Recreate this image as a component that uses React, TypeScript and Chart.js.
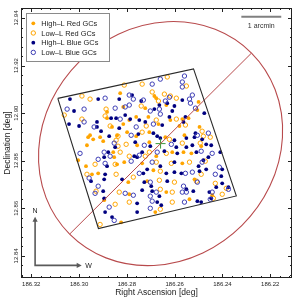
import { useEffect, useRef } from "react";
import { Chart, registerables } from "chart.js";
Chart.register(...registerables);

// ---------- data (RA / Dec in degrees) ----------
const highRedRA = [186.2883,186.2883,186.2862,186.2954,186.2962,186.2941,186.2912,186.2841,186.2967,186.2899,
186.2685,186.2828,186.2677,186.2815,186.2723,186.2635,186.2790,186.2761,186.2710,186.2618,
186.2668,186.2815,186.2706,186.2799,186.2761,186.2639,186.2757,186.2706,186.2500,186.2505,
186.2568,186.2542,186.2580,186.2496,186.2559,186.2489,186.3004,186.2971,186.2857,186.2853,
186.2946,186.2920,186.2895,186.2677,186.2610,186.2841,186.2811,186.2736,186.2689,186.2794,
186.2715,186.2790,186.2635,186.2681,186.2824,186.2563,186.2530,186.2568,186.2517,186.2443,
186.2538];
const highRedDec = [12.9005,12.8979,12.8942,12.8907,12.8899,12.8890,12.8899,12.8907,12.8865,12.8882,
12.9072,12.9084,12.9063,12.9026,12.9021,12.9034,12.8971,12.8984,12.8984,12.8971,
12.8954,12.8954,12.8920,12.8920,12.8903,12.8899,12.8865,12.8878,12.9047,12.9013,
12.8975,12.8979,12.8946,12.8942,12.8907,12.8861,12.8802,12.8777,12.8836,12.8815,
12.8743,12.8747,12.8634,12.8819,12.8836,12.8785,12.8794,12.8789,12.8760,12.8710,
12.8714,12.8659,12.8668,12.8584,12.8541,12.8836,12.8831,12.8789,12.8722,12.8655,
12.8638];

const lowRedRA = [186.2988,186.2954,186.2887,186.3062,186.2988,186.2891,186.2870,186.2845,186.2631,186.2811,
186.2736,186.2694,186.2643,186.2618,186.2668,186.2593,186.2740,186.2593,186.2677,186.2719,
186.2837,186.2736,186.2622,186.2803,186.2837,186.2551,186.2555,186.2485,186.2480,186.2451,
186.2568,186.2493,186.2933,186.2849,186.2967,186.2845,186.2929,186.2849,186.2912,186.2828,
186.2790,186.2723,186.2706,186.2635,186.2677,186.2614,186.2660,186.2773,186.2664,186.2601,
186.2660,186.2832,186.2610,186.2790,186.2610,186.2660,186.2538,186.2472,186.2489,186.2509,
186.2430,186.2384,186.2401,186.2438];
const lowRedDec = [12.9072,12.9059,12.9017,12.8992,12.8975,12.8988,12.8946,12.8886,12.9152,12.9118,
12.9122,12.9089,12.9080,12.9072,12.9051,12.9063,12.9030,12.8975,12.8971,12.8946,
12.8903,12.8920,12.8890,12.8869,12.8861,12.9114,12.8950,12.8924,12.8903,12.8899,
12.8874,12.8874,12.8785,12.8785,12.8743,12.8743,12.8672,12.8617,12.8532,12.8836,
12.8819,12.8819,12.8836,12.8831,12.8794,12.8789,12.8756,12.8731,12.8718,12.8710,
12.8680,12.8668,12.8668,12.8626,12.8626,12.8596,12.8794,12.8798,12.8743,12.8714,
12.8705,12.8684,12.8659,12.8642];

const highBlueRA = [186.3038,186.2920,186.3021,186.3042,186.3000,186.2866,186.2845,186.2925,186.2925,186.2908,
186.2874,186.2849,186.2778,186.2832,186.2740,186.2631,186.2685,186.2664,186.2601,186.2610,
186.2807,186.2786,186.2622,186.2748,186.2723,186.2652,186.2832,186.2689,186.2752,186.2673,
186.2660,186.2601,186.2765,186.2702,186.2593,186.2568,186.2476,186.2555,186.2563,186.2513,
186.2517,186.2485,186.2551,186.2526,186.2468,186.2447,186.2551,186.2895,186.2878,186.2883,
186.2950,186.2891,186.2895,186.2899,186.2895,186.2891,186.2862,186.2769,186.2757,186.2736,
186.2643,186.2589,186.2660,186.2601,186.2731,186.2715,186.2635,186.2601,186.2820,186.2727,
186.2631,186.2698,186.2736,186.2694,186.2664,186.2757,186.2673,186.2656,186.2757,186.2509,
186.2459,186.2409,186.2480,186.2500,186.2572,186.2496,186.2468,186.2401,186.2405,186.2401,
186.2426,186.2551,186.2522,186.2375,186.2455,186.2447,186.2505,186.2489];
const highBlueDec = [12.9059,12.9059,12.9009,12.8954,12.8946,12.8979,12.8979,12.8963,12.8942,12.8924,
12.8903,12.8857,12.9076,12.9059,12.9051,12.9042,12.9017,12.9034,12.9030,12.9009,
12.8992,12.8975,12.8984,12.8971,12.8963,12.8950,12.8937,12.8916,12.8912,12.8903,
12.8895,12.8886,12.8878,12.8861,12.8857,12.9055,12.9000,12.8984,12.8963,12.8916,
12.8899,12.8890,12.8895,12.8865,12.8869,12.8865,12.8857,12.8815,12.8836,12.8777,
12.8714,12.8743,12.8722,12.8672,12.8642,12.8584,12.8563,12.8819,12.8815,12.8836,
12.8840,12.8831,12.8777,12.8794,12.8747,12.8764,12.8747,12.8752,12.8722,12.8710,
12.8714,12.8693,12.8676,12.8672,12.8651,12.8621,12.8626,12.8613,12.8584,12.8836,
12.8815,12.8836,12.8802,12.8777,12.8747,12.8756,12.8764,12.8764,12.8735,12.8705,
12.8689,12.8680,12.8672,12.8689,12.8668,12.8642,12.8630,12.8626];

const lowBlueRA = [186.2891,186.3050,186.2979,186.2849,186.2979,186.2937,186.2853,186.2660,186.2694,186.2790,
186.2622,186.2773,186.2731,186.2639,186.2807,186.2790,186.2664,186.2702,186.2828,186.2660,
186.2689,186.2761,186.2782,186.2727,186.2614,186.2559,186.2568,186.2568,186.2526,186.2538,
186.2534,186.2513,186.2505,186.2459,186.2996,186.2920,186.2895,186.2870,186.2891,186.2958,
186.2920,186.2933,186.2874,186.2853,186.2748,186.2673,186.2782,186.2694,186.2748,186.2702,
186.2807,186.2773,186.2677,186.2702,186.2694,186.2702,186.2489,186.2443,186.2485,186.2526,
186.2555,186.2413,186.2430,186.2505,186.2563,186.2568,186.2551,186.2375,186.2443,186.2451,
186.2559];
const lowBlueDec = [12.9063,12.9017,12.9017,12.9021,12.8963,12.8942,12.8874,12.9143,12.9122,12.9076,
12.9067,12.9059,12.9055,12.9051,12.9026,12.9034,12.9017,12.9009,12.8975,12.8996,
12.8954,12.8942,12.8907,12.8865,12.8869,12.9156,12.9131,12.9110,12.9076,12.9059,
12.9042,12.9021,12.8907,12.8916,12.8831,12.8806,12.8836,12.8819,12.8789,12.8727,
12.8693,12.8663,12.8605,12.8549,12.8823,12.8836,12.8798,12.8794,12.8747,12.8710,
12.8663,12.8655,12.8668,12.8651,12.8630,12.8600,12.8840,12.8831,12.8794,12.8752,
12.8747,12.8773,12.8743,12.8710,12.8693,12.8668,12.8668,12.8680,12.8668,12.8638,
12.8626];

// HST field footprint
const fieldRA = [186.3089, 186.2521, 186.2342, 186.2919, 186.3089];
const fieldDec = [12.9062, 12.9186, 12.8652, 12.8515, 12.9062];
// galaxy ellipse + major axis
const majorAxisRA = [186.3038, 186.2280];
const majorAxisDec = [12.8493, 12.9251];
const ellipseCenterRA = 186.2659;
const ellipseCenterDec = 12.8872;
const ellipseSemiMajor = 0.0537;
const ellipseSemiMinor = 0.0483;
// scale bar (1 arcmin)
const scaleBarRA = [186.2321, 186.2154];
const scaleBarDec = 12.9405;
const scaleBarLabel = "1 arcmin";
// compass
const compassRA = 186.3184;
const compassDec = 12.8360;
const compassNorthDec = 12.8564;
const compassWestRA = 186.2989;

const xRange = [186.2109, 186.3243];
const yRange = [12.8307, 12.9442];
const xTickValues = [186.32, 186.30, 186.28, 186.26, 186.24, 186.22];
const yTickValues = [12.84, 12.86, 12.88, 12.90, 12.92, 12.94];
const minorStep = 0.004;
const xTitle = "Right Ascension [deg]";
const yTitle = "Declination [deg]";
const legendLabels = ["High–L Red GCs", "Low–L Red GCs", "High–L Blue GCs", "Low–L Blue GCs"];

const ORANGE = "#FFA500";
const NAVY = "#000080";
const LIGHTBLUE = "#3c3cb4";
const ELLIPSE = "#b84a4c";
const FONT = "'Liberation Sans', Arial, sans-serif";

const toXY = (ra: number[], dec: number[]) => ra.map((r, i) => ({ x: r, y: dec[i] }));

const decorPlugin = {
  id: "decor",
  afterDatasetsDraw(chart: any) {
    const { ctx, chartArea: a } = chart;
    const xs = chart.scales.x, ys = chart.scales.y;
    const px = (v: number) => xs.getPixelForValue(v);
    const py = (v: number) => ys.getPixelForValue(v);
    ctx.save();

    // ellipse
    const ppd = Math.abs(px(xRange[0]) - px(xRange[1])) / (xRange[1] - xRange[0]);
    const rot = Math.atan2(py(majorAxisDec[1]) - py(majorAxisDec[0]), px(majorAxisRA[1]) - px(majorAxisRA[0]));
    ctx.beginPath();
    ctx.ellipse(px(ellipseCenterRA), py(ellipseCenterDec), ellipseSemiMajor * ppd, ellipseSemiMinor * ppd, rot, 0, Math.PI * 2);
    ctx.strokeStyle = ELLIPSE;
    ctx.lineWidth = 1.1;
    ctx.stroke();

    // frame
    ctx.strokeStyle = "#222";
    ctx.lineWidth = 1;
    ctx.strokeRect(Math.round(a.left) + 0.5, Math.round(a.top) + 0.5, Math.round(a.right - a.left) - 1, Math.round(a.bottom - a.top) - 1);

    // ticks
    ctx.beginPath();
    const isMajor = (v: number, arr: number[]) => arr.some((t) => Math.abs(t - v) < 1e-6);
    const drawX = (v: number, len: number) => {
      const p = Math.round(px(v)) + 0.5;
      ctx.moveTo(p, a.bottom); ctx.lineTo(p, a.bottom - len);
      ctx.moveTo(p, a.top); ctx.lineTo(p, a.top + len);
    };
    const drawY = (v: number, len: number) => {
      const p = Math.round(py(v)) + 0.5;
      ctx.moveTo(a.left, p); ctx.lineTo(a.left + len, p);
      ctx.moveTo(a.right, p); ctx.lineTo(a.right - len, p);
    };
    for (let k = Math.ceil(xRange[0] / minorStep); k * minorStep <= xRange[1]; k++) {
      const v = k * minorStep;
      drawX(v, isMajor(v, xTickValues) ? 4 : 2);
    }
    for (let k = Math.ceil(yRange[0] / minorStep); k * minorStep <= yRange[1]; k++) {
      const v = k * minorStep;
      drawY(v, isMajor(v, yTickValues) ? 4 : 2);
    }
    ctx.stroke();

    // tick labels
    ctx.fillStyle = "#222";
    ctx.font = `6px ${FONT}`;
    ctx.textAlign = "center";
    ctx.textBaseline = "middle";
    xTickValues.forEach((v) => ctx.fillText(v.toFixed(2), px(v), a.bottom + 6.5));
    yTickValues.forEach((v) => {
      ctx.save();
      ctx.translate(a.left - 4.5, py(v));
      ctx.rotate(-Math.PI / 2);
      ctx.fillText(v.toFixed(2), 0, 0);
      ctx.restore();
    });

    // titles
    ctx.font = `8.5px ${FONT}`;
    ctx.fillText(xTitle, (a.left + a.right) / 2, a.bottom + 15);
    ctx.save();
    ctx.translate(a.left - 13.5, (a.top + a.bottom) / 2);
    ctx.rotate(-Math.PI / 2);
    ctx.fillText(yTitle, 0, 0);
    ctx.restore();

    // legend
    const lx = a.left + 5.5, ly = a.top + 5.5, lw = 83, lh = 48;
    ctx.fillStyle = "#fff";
    ctx.fillRect(lx, ly, lw, lh);
    ctx.strokeStyle = "#8a8a8a";
    ctx.lineWidth = 1;
    ctx.strokeRect(lx, ly, lw, lh);
    const styles = [
      { c: ORANGE, fill: true }, { c: ORANGE, fill: false },
      { c: NAVY, fill: true }, { c: LIGHTBLUE, fill: false },
    ];
    ctx.font = `7.4px ${FONT}`;
    ctx.textAlign = "left";
    legendLabels.forEach((lab, i) => {
      const yy = ly + 9.8 + i * 9.7;
      const st = styles[i];
      ctx.beginPath();
      if (st.fill) {
        ctx.arc(lx + 6.8, yy, 1.9, 0, Math.PI * 2);
        ctx.fillStyle = st.c; ctx.fill();
      } else {
        ctx.arc(lx + 6.8, yy, 2.2, 0, Math.PI * 2);
        ctx.strokeStyle = st.c; ctx.lineWidth = 1; ctx.stroke();
      }
      ctx.fillStyle = "#222";
      ctx.fillText(lab, lx + 14.8, yy + 0.5);
    });

    // scale bar
    const sbY = py(scaleBarDec);
    ctx.beginPath();
    ctx.moveTo(px(scaleBarRA[0]), sbY);
    ctx.lineTo(px(scaleBarRA[1]), sbY);
    ctx.strokeStyle = "#808080";
    ctx.lineWidth = 2;
    ctx.stroke();
    ctx.fillStyle = "#333";
    ctx.font = `7px ${FONT}`;
    ctx.textAlign = "center";
    ctx.fillText(scaleBarLabel, (px(scaleBarRA[0]) + px(scaleBarRA[1])) / 2, sbY + 9);

    // compass
    const ox = px(compassRA), oy = py(compassDec);
    const ny = py(compassNorthDec), wx = px(compassWestRA);
    ctx.strokeStyle = "#5a5a5a";
    ctx.fillStyle = "#5a5a5a";
    ctx.lineWidth = 1.6;
    ctx.beginPath();
    ctx.moveTo(ox, ny + 3); ctx.lineTo(ox, oy); ctx.lineTo(wx - 3, oy);
    ctx.stroke();
    ctx.beginPath();
    ctx.moveTo(ox, ny); ctx.lineTo(ox - 2.6, ny + 5); ctx.lineTo(ox + 2.6, ny + 5); ctx.closePath();
    ctx.fill();
    ctx.beginPath();
    ctx.moveTo(wx, oy); ctx.lineTo(wx - 5, oy - 2.6); ctx.lineTo(wx - 5, oy + 2.6); ctx.closePath();
    ctx.fill();
    ctx.fillStyle = "#222";
    ctx.font = `7px ${FONT}`;
    ctx.fillText("N", ox, ny - 5.5);
    ctx.textAlign = "left";
    ctx.fillText("W", wx + 3.5, oy + 0.5);

    ctx.restore();
  },
};

export default function App() {
  const ref = useRef<HTMLCanvasElement | null>(null);
  useEffect(() => {
    document.body.style.margin = "0";
    if (!ref.current) return;
    const chart = new Chart(ref.current, {
      type: "scatter",
      data: {
        datasets: [
          {
            label: "field",
            data: toXY(fieldRA, fieldDec),
            showLine: true,
            borderColor: "#2a2a2a",
            borderWidth: 1.1,
            pointRadius: 0,
            fill: false,
          } as any,
          {
            label: "major axis",
            data: toXY(majorAxisRA, majorAxisDec),
            showLine: true,
            borderColor: ELLIPSE,
            borderWidth: 1,
            pointRadius: 0,
            fill: false,
          },
          {
            label: "center",
            data: [{ x: ellipseCenterRA, y: ellipseCenterDec }],
            pointStyle: "cross",
            pointRadius: 5,
            borderColor: "#3a9a3a",
            borderWidth: 1,
          },
          {
            label: legendLabels[3],
            data: toXY(lowBlueRA, lowBlueDec),
            pointRadius: 2.2,
            borderWidth: 1,
            borderColor: LIGHTBLUE,
            backgroundColor: "rgba(0,0,0,0)",
          },
          {
            label: legendLabels[2],
            data: toXY(highBlueRA, highBlueDec),
            pointRadius: 1.9,
            borderWidth: 0,
            backgroundColor: NAVY,
            borderColor: NAVY,
          },
          {
            label: legendLabels[1],
            data: toXY(lowRedRA, lowRedDec),
            pointRadius: 2.2,
            borderWidth: 1,
            borderColor: ORANGE,
            backgroundColor: "rgba(0,0,0,0)",
          },
          {
            label: legendLabels[0],
            data: toXY(highRedRA, highRedDec),
            pointRadius: 1.9,
            borderWidth: 0,
            backgroundColor: ORANGE,
            borderColor: ORANGE,
          },
        ],
      },
      options: {
        responsive: false,
        maintainAspectRatio: false,
        animation: false,
        events: [],
        layout: { padding: { left: 21, right: 8, top: 8, bottom: 22 } },
        scales: {
          x: { type: "linear", reverse: true, min: xRange[0], max: xRange[1], display: false },
          y: { type: "linear", min: yRange[0], max: yRange[1], display: false },
        },
        plugins: { legend: { display: false }, tooltip: { enabled: false } },
      },
      plugins: [decorPlugin],
    });
    return () => chart.destroy();
  }, []);
  return (
    <div style={{ width: 300, height: 300, background: "#fff" }}>
      <canvas ref={ref} width={300} height={300} style={{ display: "block" }} />
    </div>
  );
}
